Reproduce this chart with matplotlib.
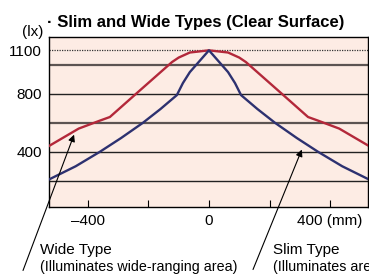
import numpy as np
import matplotlib.pyplot as plt

plt.rcParams['font.family'] = ['Liberation Sans', 'DejaVu Sans']

# position (mm) vs illuminance (lx)
wide_x = [-528, -430, -360, -327, -238, -122, -100, -63, 0, 63, 100, 122, 238, 327, 360, 430, 528]
wide_y = [440, 560, 615, 640, 805, 1019, 1050, 1085, 1100, 1085, 1050, 1019, 805, 640, 615, 560, 440]
slim_x = [-528, -440, -360, -290, -218, -160, -106, -86, -63, 0, 63, 86, 106, 160, 218, 290, 360, 440, 528]
slim_y = [209, 300, 400, 495, 600, 695, 791, 874, 950, 1100, 950, 874, 791, 695, 600, 495, 400, 300, 209]

grid_y = [200, 400, 600, 800, 1000]
ytick_vals = [400, 800, 1100]
xtick_vals = [-400, -200, 0, 200, 400]
xtick_labels = ['\u2013400', '', '0', '', '400 (mm)']

W, H = 369, 276
fig = plt.figure(figsize=(W / 100, H / 100), dpi=100)
ax = fig.add_axes([49 / W, (H - 207) / H, 319 / W, 170 / H])
ax.set_facecolor('#fdece4')
ax.set_xlim(-528, 525)
ax.set_ylim(19, 1192)

for g in grid_y:
    if g in (1000, 600):
        ax.axhline(g, color='#5c5452', lw=1.6, zorder=1)
    else:
        ax.axhline(g, color='#222222', lw=1.0, zorder=1)
ax.axhline(1100, color='#333333', lw=0.9, ls=(0, (1, 1)), zorder=1)

ax.plot(wide_x, wide_y, color='#b3283a', lw=1.7, zorder=3)
ax.plot(slim_x, slim_y, color='#2d3170', lw=1.7, zorder=3)

ax.set_xticks(xtick_vals)
ax.set_xticklabels(xtick_labels, fontsize=11)
ax.set_yticks(ytick_vals)
ax.set_yticklabels([str(v) for v in ytick_vals], fontsize=11)
ax.tick_params(axis='x', direction='in', length=5, width=0.8, pad=5)
ax.tick_params(axis='y', length=0, pad=5)
for s in ax.spines.values():
    s.set_linewidth(1.0)
    s.set_color('black')

# arrows pointing at the curves
ax.annotate('', xy=(-442, 536), xytext=(-617, -437),
            arrowprops=dict(arrowstyle='-|>', color='black', lw=0.8, mutation_scale=10),
            annotation_clip=False)
ax.annotate('', xy=(310, 433), xytext=(142, -430),
            arrowprops=dict(arrowstyle='-|>', color='black', lw=0.8, mutation_scale=10),
            annotation_clip=False)

def px(x, y):
    return x / W, 1 - y / H

fig.text(*px(47, 22), '\u00b7 Slim and Wide Types (Clear Surface)', fontsize=12,
         fontweight='bold', va='center', ha='left')
fig.text(*px(43, 32), '(lx)', fontsize=11, va='center', ha='right')
fig.text(*px(40, 250), 'Wide Type', fontsize=11, va='center', ha='left')
fig.text(*px(40, 267), '(Illuminates wide-ranging area)', fontsize=10.3, va='center', ha='left')
fig.text(*px(273, 250), 'Slim Type', fontsize=11, va='center', ha='left')
fig.text(*px(273, 267), '(Illuminates area directly below)', fontsize=10.3, va='center', ha='left')

fig.savefig('out.png', dpi=100)
